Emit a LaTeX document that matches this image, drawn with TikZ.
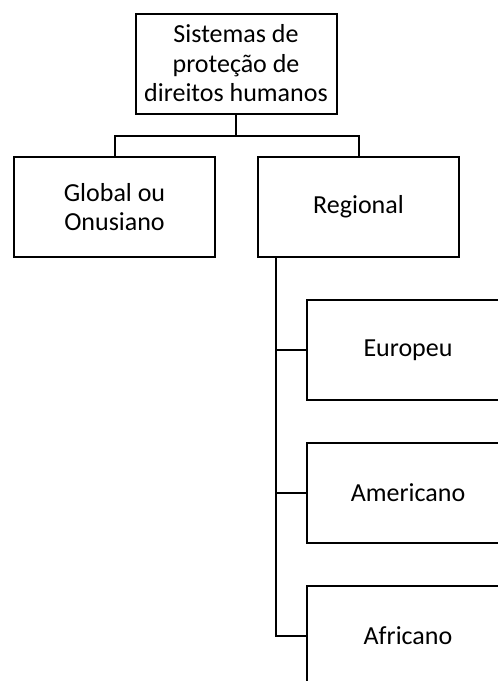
\documentclass[tikz,border=0pt]{standalone}
\usepackage{fontspec}
\setmainfont{Carlito}
\begin{document}
\begin{tikzpicture}[x=1pt,y=-1pt,
  box/.style={draw,line width=2pt,minimum width=201pt,minimum height=100pt,align=center,inner sep=0pt,font=\fontsize{26}{29.5}\selectfont},
  conn/.style={line width=2pt}]
\useasboundingbox (0,0) rectangle (498,681);
\clip (0,0) rectangle (498,681);
\node[box] (top) at (236,63.5) {Sistemas de\\proteção de\\direitos humanos};
\node[box] (global) at (114.5,207) {Global ou\\Onusiano};
\node[box] (regional) at (358.5,207) {Regional};
\node[box,minimum width=202pt] (europeu) at (408,350) {Europeu};
\node[box,minimum width=202pt] (americano) at (408,492.5) {Americano};
\node[box,minimum width=202pt] (africano) at (408,636) {Africano};
\coordinate (split) at ([yshift=-21pt]top.south);
\draw[conn] (top.south) -- (split);
\draw[conn] (split) -| (global.north);
\draw[conn] (split) -| (regional.north);
\coordinate (r) at ([xshift=19pt]regional.south west);
\draw[conn] (r) |- (europeu.west);
\draw[conn] (r) |- (americano.west);
\draw[conn] (r) |- (africano.west);
\end{tikzpicture}
\end{document}
